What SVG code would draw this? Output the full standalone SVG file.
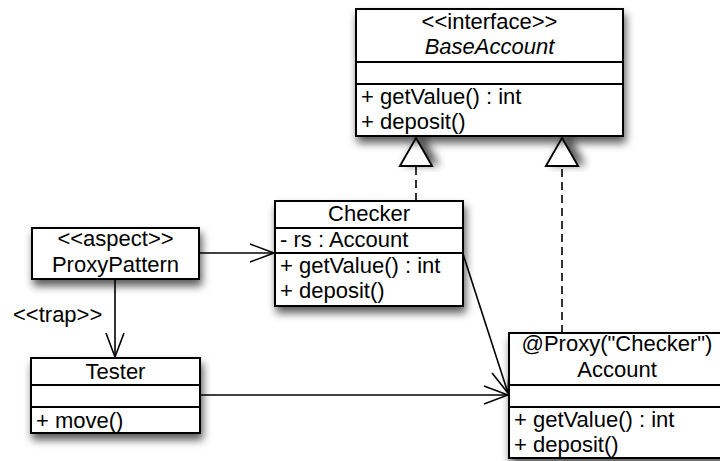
<svg xmlns="http://www.w3.org/2000/svg" width="720" height="461" viewBox="0 0 720 461">
<defs>
<style>
.box{fill:#fff;stroke:#000;stroke-width:2}
.div{stroke:#000;stroke-width:2;fill:none}
text{font-family:"Liberation Sans",Arial,sans-serif;font-size:22px;fill:#000}
.c{text-anchor:middle}
.i{font-style:italic}
.ln{stroke:#000;stroke-width:1.6;fill:none}
.dash{stroke-dasharray:8 5}
</style>
<filter id="sh" x="-20%" y="-20%" width="140%" height="160%">
<feDropShadow dx="2" dy="6" stdDeviation="4" flood-color="#000" flood-opacity="0.65"/>
</filter>
<marker id="open" markerUnits="userSpaceOnUse" orient="auto" markerWidth="30" markerHeight="24" refX="0" refY="0" viewBox="-26 -12 30 24" overflow="visible">
<path d="M-24,-9 L0,0 L-24,9" fill="none" stroke="#000" stroke-width="1.6"/>
</marker>
<marker id="tri" markerUnits="userSpaceOnUse" orient="auto" markerWidth="34" markerHeight="36" refX="0" refY="0" viewBox="-30 -18 34 36" overflow="visible">
<path d="M0,0 L-28,-16 L-28,16 Z" fill="#fff" stroke="#000" stroke-width="2" stroke-dasharray="none" filter="url(#sh)"/>
</marker>
</defs>

<g id="connectors">
<line class="ln dash" x1="416" y1="201" x2="416" y2="138" marker-end="url(#tri)"/>
<line class="ln dash" x1="562" y1="333" x2="562" y2="138" marker-end="url(#tri)"/>
<line class="ln" x1="199" y1="253" x2="274" y2="253" marker-end="url(#open)"/>
<line class="ln" x1="115" y1="279" x2="115" y2="357" marker-end="url(#open)"/>
<text x="13" y="322">&lt;&lt;trap&gt;&gt;</text>
<line class="ln" x1="200" y1="395" x2="508" y2="395" marker-end="url(#open)"/>
<line class="ln" x1="463" y1="254" x2="508" y2="393" marker-end="url(#open)"/>
</g>

<g id="BaseAccount">
<rect class="box" x="356" y="9" width="267" height="127" filter="url(#sh)"/>
<line class="div" x1="356" y1="62" x2="623" y2="62"/>
<line class="div" x1="356" y1="84" x2="623" y2="84"/>
<text class="c" x="489.5" y="29">&lt;&lt;interface&gt;&gt;</text>
<text class="c i" x="489.5" y="54">BaseAccount</text>
<text x="361" y="104">+ getValue() : int</text>
<text x="361" y="129">+ deposit()</text>
</g>

<g id="Checker">
<rect class="box" x="275" y="201" width="188" height="105" filter="url(#sh)"/>
<line class="div" x1="275" y1="228" x2="463" y2="228"/>
<line class="div" x1="275" y1="253" x2="463" y2="253"/>
<text class="c" x="369" y="221">Checker</text>
<text x="280" y="247">- rs : Account</text>
<text x="280" y="273">+ getValue() : int</text>
<text x="280" y="298">+ deposit()</text>
</g>

<g id="ProxyPattern">
<rect class="box" x="32" y="228" width="167" height="51" filter="url(#sh)"/>
<text class="c" x="115.5" y="246">&lt;&lt;aspect&gt;&gt;</text>
<text class="c" x="115.5" y="272">ProxyPattern</text>
</g>

<g id="Tester">
<rect class="box" x="31" y="358" width="169" height="75" filter="url(#sh)"/>
<line class="div" x1="31" y1="385" x2="200" y2="385"/>
<line class="div" x1="31" y1="407" x2="200" y2="407"/>
<text class="c" x="115.5" y="379">Tester</text>
<text x="36" y="428">+ move()</text>
</g>

<g id="Account">
<rect class="box" x="509" y="333" width="218" height="125" filter="url(#sh)"/>
<line class="div" x1="509" y1="385" x2="727" y2="385"/>
<line class="div" x1="509" y1="407" x2="727" y2="407"/>
<text class="c" x="617" y="351">@Proxy("Checker")</text>
<text class="c" x="617" y="377">Account</text>
<text x="514" y="427">+ getValue() : int</text>
<text x="514" y="452">+ deposit()</text>
</g>
</svg>
